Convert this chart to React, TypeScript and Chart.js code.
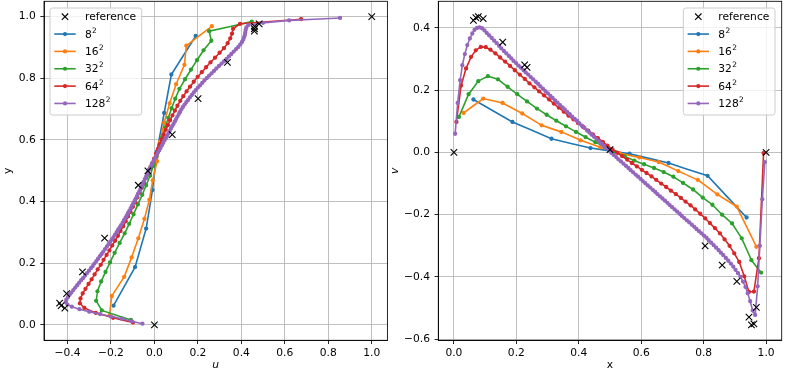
import React, { useEffect, useRef } from "react";
import { Chart, registerables } from "chart.js";
Chart.register(...registerables);

// ---- cell-centre coordinates of each mesh ----
const GRID8 = [0.0625, 0.1875, 0.3125, 0.4375, 0.5625, 0.6875, 0.8125, 0.9375];
const GRID16 = [0.031, 0.094, 0.156, 0.219, 0.281, 0.344, 0.406, 0.469, 0.531, 0.594, 0.656, 0.719, 0.781, 0.844, 0.906, 0.969];
const GRID32 = [
  0.016, 0.047, 0.078, 0.109, 0.141, 0.172, 0.203, 0.234, 0.266, 0.297, 0.328, 0.359, 0.391, 0.422, 0.453, 0.484,
  0.516, 0.547, 0.578, 0.609, 0.641, 0.672, 0.703, 0.734, 0.766, 0.797, 0.828, 0.859, 0.891, 0.922, 0.953, 0.984,
];
const GRID64 = [
  0.008, 0.023, 0.039, 0.055, 0.070, 0.086, 0.102, 0.117, 0.133, 0.148, 0.164, 0.180, 0.195, 0.211, 0.227, 0.242,
  0.258, 0.273, 0.289, 0.305, 0.320, 0.336, 0.352, 0.367, 0.383, 0.398, 0.414, 0.430, 0.445, 0.461, 0.477, 0.492,
  0.508, 0.523, 0.539, 0.555, 0.570, 0.586, 0.602, 0.617, 0.633, 0.648, 0.664, 0.680, 0.695, 0.711, 0.727, 0.742,
  0.758, 0.773, 0.789, 0.805, 0.820, 0.836, 0.852, 0.867, 0.883, 0.898, 0.914, 0.930, 0.945, 0.961, 0.977, 0.992,
];
const GRID128 = [
  0.004, 0.012, 0.020, 0.027, 0.035, 0.043, 0.051, 0.059, 0.066, 0.074, 0.082, 0.090, 0.098, 0.105, 0.113, 0.121,
  0.129, 0.137, 0.145, 0.152, 0.160, 0.168, 0.176, 0.184, 0.191, 0.199, 0.207, 0.215, 0.223, 0.230, 0.238, 0.246,
  0.254, 0.262, 0.270, 0.277, 0.285, 0.293, 0.301, 0.309, 0.316, 0.324, 0.332, 0.340, 0.348, 0.355, 0.363, 0.371,
  0.379, 0.387, 0.395, 0.402, 0.410, 0.418, 0.426, 0.434, 0.441, 0.449, 0.457, 0.465, 0.473, 0.480, 0.488, 0.496,
  0.504, 0.512, 0.520, 0.527, 0.535, 0.543, 0.551, 0.559, 0.566, 0.574, 0.582, 0.590, 0.598, 0.605, 0.613, 0.621,
  0.629, 0.637, 0.645, 0.652, 0.660, 0.668, 0.676, 0.684, 0.691, 0.699, 0.707, 0.715, 0.723, 0.730, 0.738, 0.746,
  0.754, 0.762, 0.770, 0.777, 0.785, 0.793, 0.801, 0.809, 0.816, 0.824, 0.832, 0.840, 0.848, 0.855, 0.863, 0.871,
  0.879, 0.887, 0.895, 0.902, 0.910, 0.918, 0.926, 0.934, 0.941, 0.949, 0.957, 0.965, 0.973, 0.980, 0.988, 0.996,
];

// ---- reference data (vertical centreline u(y), horizontal centreline v(x)) ----
const REF_Y = [1.0, 0.9766, 0.9688, 0.9609, 0.9531, 0.8516, 0.7344, 0.6172, 0.5, 0.4531, 0.2813, 0.1719, 0.1016, 0.0703, 0.0625, 0.0547, 0.0];
const REF_U = [1.0, 0.482, 0.461, 0.46, 0.46, 0.336, 0.201, 0.082, -0.03, -0.074, -0.229, -0.331, -0.404, -0.436, -0.429, -0.412, 0.0];
const REF_X = [1.0, 0.9688, 0.9609, 0.9531, 0.9453, 0.9063, 0.8594, 0.8047, 0.5, 0.2344, 0.2266, 0.1563, 0.0938, 0.0781, 0.0703, 0.0625, 0.0];
const REF_V = [0.0, -0.498, -0.551, -0.554, -0.529, -0.414, -0.362, -0.3, 0.009, 0.273, 0.281, 0.354, 0.43, 0.436, 0.433, 0.424, 0.0];

// ---- simulated u along the vertical centreline ----
const U8 = [-0.188, -0.089, -0.038, -0.009, 0.011, 0.045, 0.078, 0.19];
const U16 = [-0.207, -0.196, -0.139, -0.105, -0.074, -0.046, -0.023, -0.008, 0.012, 0.026, 0.045, 0.07, 0.1, 0.138, 0.147, 0.264];
const U32 = [
  -0.108, -0.242, -0.268, -0.262, -0.245, -0.225, -0.204, -0.183, -0.16, -0.137, -0.116, -0.096, -0.076, -0.056, -0.038, -0.02,
  -0.005, 0.01, 0.023, 0.036, 0.05, 0.064, 0.079, 0.096, 0.115, 0.141, 0.168, 0.196, 0.226, 0.262, 0.252, 0.448,
];
const U64 = [
  -0.099, -0.19, -0.27, -0.322, -0.343, -0.34, -0.33, -0.317, -0.303, -0.289, -0.275, -0.261, -0.247, -0.234, -0.22, -0.207,
  -0.194, -0.181, -0.168, -0.156, -0.144, -0.132, -0.121, -0.11, -0.099, -0.088, -0.078, -0.068, -0.058, -0.048, -0.039, -0.03,
  -0.02, -0.011, -0.002, 0.007, 0.016, 0.025, 0.034, 0.043, 0.052, 0.062, 0.072, 0.083, 0.094, 0.106, 0.119, 0.133,
  0.148, 0.164, 0.181, 0.199, 0.218, 0.238, 0.258, 0.279, 0.3, 0.32, 0.337, 0.349, 0.357, 0.362, 0.394, 0.675,
];
const U128 = [
  -0.055, -0.105, -0.15, -0.2, -0.25, -0.3, -0.345, -0.38, -0.4, -0.408, -0.405, -0.398, -0.39, -0.382, -0.373, -0.364,
  -0.355, -0.346, -0.337, -0.328, -0.319, -0.31, -0.301, -0.292, -0.284, -0.276, -0.267, -0.259, -0.251, -0.243, -0.235, -0.227,
  -0.219, -0.211, -0.203, -0.196, -0.188, -0.181, -0.174, -0.167, -0.16, -0.153, -0.146, -0.14, -0.133, -0.127, -0.121, -0.115,
  -0.109, -0.103, -0.097, -0.091, -0.086, -0.08, -0.075, -0.069, -0.064, -0.059, -0.054, -0.049, -0.044, -0.039, -0.034, -0.029,
  -0.025, -0.019, -0.013, -0.008, -0.002, 0.004, 0.01, 0.016, 0.022, 0.028, 0.034, 0.04, 0.046, 0.052, 0.058, 0.064,
  0.07, 0.076, 0.082, 0.088, 0.094, 0.1, 0.106, 0.112, 0.118, 0.124, 0.131, 0.139, 0.147, 0.155, 0.163, 0.172,
  0.181, 0.19, 0.2, 0.21, 0.22, 0.23, 0.241, 0.252, 0.263, 0.274, 0.285, 0.297, 0.309, 0.32, 0.332, 0.343,
  0.354, 0.365, 0.376, 0.386, 0.395, 0.403, 0.409, 0.413, 0.416, 0.418, 0.42, 0.423, 0.432, 0.5, 0.62, 0.854,
];

// ---- simulated v along the horizontal centreline ----
const V8 = [0.17, 0.098, 0.044, 0.014, -0.004, -0.034, -0.075, -0.209];
const V16 = [0.127, 0.173, 0.159, 0.125, 0.087, 0.066, 0.039, 0.017, -0.003, -0.016, -0.031, -0.06, -0.088, -0.135, -0.174, -0.303];
const V32 = [
  0.114, 0.187, 0.229, 0.245, 0.235, 0.211, 0.187, 0.164, 0.141, 0.121, 0.102, 0.084, 0.066, 0.049, 0.033, 0.017,
  0.002, -0.013, -0.026, -0.038, -0.05, -0.063, -0.078, -0.098, -0.119, -0.145, -0.168, -0.2, -0.228, -0.276, -0.346, -0.386,
];
const V64 = [
  0.098, 0.215, 0.27, 0.307, 0.328, 0.339, 0.338, 0.33, 0.318, 0.305, 0.292, 0.278, 0.264, 0.25, 0.236, 0.222,
  0.209, 0.196, 0.183, 0.17, 0.157, 0.144, 0.131, 0.118, 0.106, 0.094, 0.082, 0.07, 0.058, 0.046, 0.034, 0.022,
  0.01, -0.001, -0.012, -0.023, -0.034, -0.045, -0.056, -0.066, -0.077, -0.088, -0.1, -0.111, -0.123, -0.134, -0.146, -0.158,
  -0.17, -0.183, -0.197, -0.212, -0.227, -0.243, -0.26, -0.279, -0.3, -0.324, -0.352, -0.398, -0.448, -0.447, -0.34, -0.002,
];
const V128 = [
  0.06, 0.159, 0.232, 0.28, 0.316, 0.345, 0.366, 0.382, 0.394, 0.4, 0.402, 0.399, 0.392, 0.384, 0.376, 0.368,
  0.359, 0.351, 0.342, 0.334, 0.326, 0.318, 0.31, 0.302, 0.294, 0.287, 0.279, 0.272, 0.264, 0.257, 0.25, 0.242,
  0.235, 0.227, 0.22, 0.212, 0.205, 0.197, 0.19, 0.182, 0.175, 0.167, 0.16, 0.152, 0.145, 0.138, 0.13, 0.123,
  0.115, 0.108, 0.101, 0.093, 0.086, 0.079, 0.071, 0.064, 0.057, 0.05, 0.042, 0.035, 0.028, 0.021, 0.014, 0.007,
  -0.001, -0.008, -0.015, -0.022, -0.029, -0.036, -0.043, -0.05, -0.057, -0.064, -0.071, -0.078, -0.085, -0.092, -0.099, -0.106,
  -0.113, -0.12, -0.127, -0.134, -0.141, -0.148, -0.155, -0.162, -0.169, -0.176, -0.183, -0.19, -0.197, -0.204, -0.211, -0.218,
  -0.225, -0.232, -0.239, -0.246, -0.253, -0.26, -0.267, -0.274, -0.282, -0.29, -0.298, -0.306, -0.314, -0.322, -0.33, -0.339,
  -0.348, -0.357, -0.367, -0.377, -0.388, -0.4, -0.415, -0.432, -0.452, -0.478, -0.508, -0.522, -0.43, -0.3, -0.15, -0.031,
];

// legend labels: mesh size with a superscript exponent
const SERIES_BASES = ["8", "16", "32", "64", "128"];
const SERIES_EXP = "2";
const SERIES_LABELS = SERIES_BASES.map((b) => b + "\u00b2");
const REF_LABEL = "reference";
const COLORS = ["#1f77b4", "#ff7f0e", "#2ca02c", "#d62728", "#9467bd"];

const FONT_FAMILY = "'DejaVu Sans', sans-serif";
const FS = 10.7;
const H = 373;

function pts(xs: number[], ys: number[]) {
  return xs.map((x, i) => ({ x, y: ys[i] }));
}

function fmtTick(v: number) {
  const r = Math.round(v * 10) / 10;
  return (r === 0 ? 0 : r).toFixed(1).replace("-", "\u2212");
}

const framePlugin = {
  id: "frame",
  afterDatasetsDraw(chart: any) {
    const { ctx, chartArea: a } = chart;
    ctx.save();
    ctx.strokeStyle = "#000";
    ctx.lineWidth = 0.85;
    ctx.strokeRect(a.left, a.top, a.right - a.left, a.bottom - a.top);
    ctx.restore();
  },
};

function legendPlugin(side: "left" | "right") {
  return {
    id: "mplLegend",
    afterDraw(chart: any) {
      const { ctx, chartArea: a } = chart;
      const W = 91.7;
      const BH = 107;
      const L = side === "left" ? a.left + 6 : a.right - 6.7 - W;
      const T = a.top + 6.7;
      ctx.save();
      const r = 2.5;
      ctx.beginPath();
      ctx.moveTo(L + r, T);
      ctx.lineTo(L + W - r, T);
      ctx.arcTo(L + W, T, L + W, T + r, r);
      ctx.lineTo(L + W, T + BH - r);
      ctx.arcTo(L + W, T + BH, L + W - r, T + BH, r);
      ctx.lineTo(L + r, T + BH);
      ctx.arcTo(L, T + BH, L, T + BH - r, r);
      ctx.lineTo(L, T + r);
      ctx.arcTo(L, T, L + r, T, r);
      ctx.closePath();
      ctx.fillStyle = "rgba(255,255,255,0.8)";
      ctx.fill();
      ctx.strokeStyle = "#cccccc";
      ctx.lineWidth = 1;
      ctx.stroke();

      for (let i = 0; i < 6; i++) {
        const y = T + 8.7 + i * 17.35;
        const cx = L + 15;
        ctx.fillStyle = "#000";
        ctx.textBaseline = "middle";
        ctx.textAlign = "left";
        ctx.font = `${FS}px ${FONT_FAMILY}`;
        if (i === 0) {
          const d = 3.2;
          ctx.strokeStyle = "#000";
          ctx.lineWidth = 1.1;
          ctx.beginPath();
          ctx.moveTo(cx - d, y - d);
          ctx.lineTo(cx + d, y + d);
          ctx.moveTo(cx - d, y + d);
          ctx.lineTo(cx + d, y - d);
          ctx.stroke();
          ctx.fillText(REF_LABEL, L + 35, y + 0.8);
        } else {
          const c = COLORS[i - 1];
          ctx.strokeStyle = c;
          ctx.lineWidth = 1.6;
          ctx.beginPath();
          ctx.moveTo(L + 4.3, y);
          ctx.lineTo(L + 25.7, y);
          ctx.stroke();
          ctx.fillStyle = c;
          ctx.beginPath();
          ctx.arc(cx, y, 2.1, 0, Math.PI * 2);
          ctx.fill();
          ctx.fillStyle = "#000";
          const base = SERIES_BASES[i - 1];
          ctx.fillText(base, L + 35, y + 0.8);
          const bw = ctx.measureText(base).width;
          ctx.font = `${FS * 0.7}px ${FONT_FAMILY}`;
          ctx.fillText(SERIES_EXP, L + 35 + bw + 0.3, y - 3.2);
        }
      }
      ctx.restore();
    },
  };
}

interface PanelSpec {
  refX: number[];
  refY: number[];
  series: { x: number[]; y: number[] }[];
  xMin: number;
  xMax: number;
  yMin: number;
  yMax: number;
  xTitle: string;
  yTitle: string;
  xItalic: boolean;
  yItalic: boolean;
  yAxisWidth: number;
  padRight: number;
  yTitlePad: number;
  side: "left" | "right";
}

function axisCommon() {
  return {
    grid: { color: "#b0b0b0", lineWidth: 0.8, drawTicks: true, tickLength: 3.7, tickColor: "#000", tickWidth: 0.85 },
    border: { display: true, color: "#000", width: 0.85 },
  };
}

function buildConfig(p: PanelSpec): any {
  const datasets: any[] = [
    {
      label: REF_LABEL,
      data: pts(p.refX, p.refY),
      showLine: false,
      pointStyle: "crossRot",
      pointRadius: 4.6,
      pointBorderWidth: 1.1,
      pointBorderColor: "#000",
      pointBackgroundColor: "#000",
      borderColor: "#000",
      order: 0,
    },
  ];
  p.series.forEach((s, i) => {
    datasets.push({
      label: SERIES_LABELS[i],
      data: pts(s.x, s.y),
      showLine: true,
      borderColor: COLORS[i],
      backgroundColor: COLORS[i],
      borderWidth: 1.6,
      pointRadius: 1.6,
      pointBorderWidth: 1.1,
      pointBackgroundColor: COLORS[i],
      pointBorderColor: COLORS[i],
      tension: 0.000001,
      order: 5 - i,
    });
  });
  return {
    type: "scatter",
    data: { datasets },
    plugins: [framePlugin, legendPlugin(p.side)],
    options: {
      responsive: false,
      animation: false,
      devicePixelRatio: 1,
      events: [],
      layout: { autoPadding: false, padding: { left: 0, right: p.padRight, top: 1.3, bottom: 0 } },
      plugins: { legend: { display: false }, tooltip: { enabled: false } },
      scales: {
        x: {
          type: "linear",
          position: "bottom",
          min: p.xMin,
          max: p.xMax,
          ...axisCommon(),
          ticks: {
            stepSize: 0.2,
            includeBounds: false,
            autoSkip: false,
            maxRotation: 0,
            padding: 2.6,
            color: "#000",
            font: { family: FONT_FAMILY, size: FS },
            callback: (v: number) => fmtTick(v),
          },
          title: {
            display: true,
            text: p.xTitle,
            color: "#000",
            font: { family: FONT_FAMILY, size: FS, style: p.xItalic ? "italic" : "normal" },
            padding: { top: 0, bottom: 1.1 },
          },
          afterFit: (s: any) => {
            s.height = 32.7;
            s.paddingLeft = 0;
            s.paddingRight = 0;
            s.paddingTop = 0;
            s.paddingBottom = 0;
          },
        },
        y: {
          type: "linear",
          position: "left",
          min: p.yMin,
          max: p.yMax,
          ...axisCommon(),
          ticks: {
            stepSize: 0.2,
            includeBounds: false,
            autoSkip: false,
            padding: 4.6,
            color: "#000",
            font: { family: FONT_FAMILY, size: FS },
            callback: (v: number) => fmtTick(v),
          },
          title: {
            display: true,
            text: p.yTitle,
            color: "#000",
            font: { family: FONT_FAMILY, size: FS, style: p.yItalic ? "italic" : "normal" },
            padding: { top: p.yTitlePad, bottom: 0 },
          },
          afterFit: (s: any) => {
            s.width = p.yAxisWidth;
            s.paddingLeft = 0;
            s.paddingRight = 0;
            s.paddingTop = 0;
            s.paddingBottom = 0;
          },
        },
      },
    },
  };
}

const LEFT_SPEC: PanelSpec = {
  refX: REF_U,
  refY: REF_Y,
  series: [
    { x: U8, y: GRID8 },
    { x: U16, y: GRID16 },
    { x: U32, y: GRID32 },
    { x: U64, y: GRID64 },
    { x: U128, y: GRID128 },
  ],
  xMin: -0.508,
  xMax: 1.072,
  yMin: -0.05,
  yMax: 1.05,
  xTitle: "u",
  yTitle: "y",
  xItalic: true,
  yItalic: false,
  yAxisWidth: 44,
  padRight: 12.6,
  yTitlePad: 1.6,
  side: "left",
};

const RIGHT_SPEC: PanelSpec = {
  refX: REF_X,
  refY: REF_V,
  series: [
    { x: GRID8, y: V8 },
    { x: GRID16, y: V16 },
    { x: GRID32, y: V32 },
    { x: GRID64, y: V64 },
    { x: GRID128, y: V128 },
  ],
  xMin: -0.05,
  xMax: 1.05,
  yMin: -0.6035,
  yMax: 0.4855,
  xTitle: "x",
  yTitle: "v",
  xItalic: false,
  yItalic: true,
  yAxisWidth: 53.3,
  padRight: 11.3,
  yTitlePad: 4.1,
  side: "right",
};

function Panel({ spec, left, width }: { spec: PanelSpec; left: number; width: number }) {
  const ref = useRef<HTMLCanvasElement>(null);
  useEffect(() => {
    const chart = new Chart(ref.current as HTMLCanvasElement, buildConfig(spec));
    return () => chart.destroy();
  }, [spec]);
  return (
    <canvas
      ref={ref}
      width={width}
      height={H}
      style={{ position: "absolute", left, top: 0, width, height: H }}
    />
  );
}

export default function App() {
  return (
    <div style={{ position: "absolute", left: 0, top: 0, width: 793, height: H, background: "#fff", overflow: "hidden" }}>
      <Panel spec={LEFT_SPEC} left={0} width={400} />
      <Panel spec={RIGHT_SPEC} left={385} width={408} />
    </div>
  );
}
